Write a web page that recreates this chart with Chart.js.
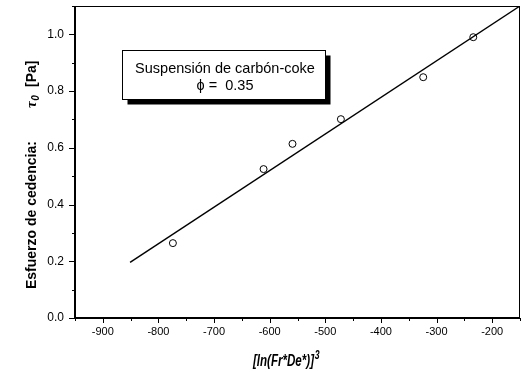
<!DOCTYPE html>
<html>
<head>
<meta charset="utf-8">
<script src="https://cdn.jsdelivr.net/npm/chart.js@4/dist/chart.umd.min.js"></script>
<style>
  html, body { margin: 0; padding: 0; background: #fff; }
  #wrap { width: 521px; height: 372px; position: relative; }
</style>
</head>
<body>
<div id="wrap"><canvas id="c" width="521" height="372"></canvas></div>
<script>
// ---- data ----
const pointX = [-774, -611, -559, -472, -324, -234];
const pointY = [0.264, 0.525, 0.614, 0.701, 0.849, 0.990];
const lineX = [-851, -150];
const lineY = [0.196, 1.100];
const xMajorTicks = [-900, -800, -700, -600, -500, -400, -300, -200];
const yMajorTicks = [0.0, 0.2, 0.4, 0.6, 0.8, 1.0];
const yTitle = 'Esfuerzo de cedencia:';
const yTitleSym = 'τ';
const yTitleSub = '0';
const yTitleUnit = '[Pa]';
const xTitle = '[ln(Fr*De*)]';
const xTitleSup = '3';
const boxLine1 = 'Suspensión de carbón-coke';
const boxLine2 = 'ϕ =  0.35';

const SANS = "'Liberation Sans', Arial, sans-serif";

const decor = {
  id: 'decor',
  afterDraw(chart) {
    const ctx = chart.ctx, ca = chart.chartArea;
    const xs = chart.scales.x, ys = chart.scales.y;
    ctx.save();
    ctx.strokeStyle = '#000';
    ctx.fillStyle = '#000';
    // frame
    ctx.lineWidth = 1;
    ctx.beginPath();
    ctx.moveTo(ca.left, ca.top + 0.5); ctx.lineTo(ca.right, ca.top + 0.5);
    ctx.moveTo(ca.right - 0.5, ca.top); ctx.lineTo(ca.right - 0.5, ca.bottom);
    ctx.stroke();
    ctx.lineWidth = 2;
    ctx.beginPath();
    ctx.moveTo(ca.left, ca.top); ctx.lineTo(ca.left, ca.bottom + 1);
    ctx.moveTo(ca.left - 1, ca.bottom); ctx.lineTo(ca.right, ca.bottom);
    ctx.stroke();
    // tick marks
    ctx.lineWidth = 1;
    ctx.beginPath();
    xs.ticks.forEach(t => {
      const px = Math.round(xs.getPixelForValue(t.value)) + 0.5;
      const major = xMajorTicks.includes(t.value);
      ctx.moveTo(px, ca.bottom); ctx.lineTo(px, ca.bottom + (major ? 5 : 3));
    });
    ys.ticks.forEach(t => {
      const py = Math.round(ys.getPixelForValue(t.value)) + 0.5;
      const major = yMajorTicks.some(v => Math.abs(v - t.value) < 1e-6);
      ctx.moveTo(ca.left, py); ctx.lineTo(ca.left - (major ? 6 : 3), py);
    });
    ctx.stroke();

    // annotation box with shadow
    const bx = 122.5, by = 50.5, bw = 203, bh = 49;
    ctx.fillStyle = '#000';
    ctx.fillRect(bx + 5, by + 5, bw, bh);
    ctx.fillStyle = '#fff';
    ctx.fillRect(bx, by, bw, bh);
    ctx.lineWidth = 1;
    ctx.strokeRect(bx, by, bw, bh);
    ctx.fillStyle = '#000';
    ctx.textAlign = 'center';
    ctx.textBaseline = 'alphabetic';
    ctx.font = '14.5px ' + SANS;
    ctx.fillText(boxLine1, 225, 72.5);
    ctx.fillText(boxLine2, 225, 90);

    // y title (rotated)
    ctx.save();
    ctx.translate(36, 289);
    ctx.rotate(-Math.PI / 2);
    ctx.textAlign = 'left';
    ctx.font = 'bold 14px ' + SANS;
    ctx.fillText(yTitle, 0, 0);
    ctx.font = 'italic bold 15px ' + "'Liberation Serif', serif";
    ctx.fillText(yTitleSym, 181, 0);
    const ws = ctx.measureText(yTitleSym).width;
    ctx.font = 'italic bold 10px ' + SANS;
    ctx.fillText(yTitleSub, 181 + ws + 0.5, 3);
    ctx.font = 'bold 14px ' + SANS;
    ctx.fillText(yTitleUnit, 202, 0);
    ctx.restore();

    // x title (condensed)
    ctx.save();
    ctx.font = 'italic bold 16px ' + SANS;
    const w = ctx.measureText(xTitle).width;
    const sx = 61 / w;
    ctx.translate(253, 366);
    ctx.scale(sx, 1);
    ctx.textAlign = 'left';
    ctx.fillText(xTitle, 0, 0);
    ctx.font = 'italic bold 12px ' + SANS;
    ctx.fillText(xTitleSup, w + 1, -7);
    ctx.restore();

    ctx.restore();
  }
};

new Chart(document.getElementById('c'), {
  type: 'scatter',
  data: {
    datasets: [
      {
        label: 'datos',
        data: pointX.map((x, i) => ({ x, y: pointY[i] })),
        pointStyle: 'circle',
        pointRadius: 3.5,
        pointBorderWidth: 1,
        pointBorderColor: '#000',
        pointBackgroundColor: 'rgba(255,255,255,0)',
        showLine: false
      },
      {
        label: 'ajuste',
        type: 'line',
        data: lineX.map((x, i) => ({ x, y: lineY[i] })),
        borderColor: '#000',
        borderWidth: 1.4,
        pointRadius: 0,
        fill: false,
        tension: 0
      }
    ]
  },
  options: {
    responsive: false,
    animation: false,
    devicePixelRatio: 1,
    layout: { autoPadding: false, padding: { top: 6, right: 1, left: 0, bottom: 0 } },
    plugins: { legend: { display: false }, tooltip: { enabled: false } },
    scales: {
      x: {
        type: 'linear',
        min: -950, max: -150,
        grid: { display: false, drawTicks: false },
        border: { display: false },
        ticks: {
          stepSize: 50,
          autoSkip: false,
          maxRotation: 0,
          padding: 7.5,
          color: '#000',
          font: { family: SANS, size: 11 },
          callback: v => (xMajorTicks.includes(v) ? String(v) : '')
        },
        afterFit(s) { s.height = 54; s.paddingLeft = 0; s.paddingRight = 0; }
      },
      y: {
        min: 0, max: 1.1,
        grid: { display: false, drawTicks: false },
        border: { display: false },
        ticks: {
          stepSize: 0.1,
          autoSkip: false,
          padding: 11,
          color: '#000',
          font: { family: SANS, size: 12 },
          callback: v => {
            const m = yMajorTicks.find(t => Math.abs(t - v) < 1e-6);
            return m === undefined ? '' : m.toFixed(1);
          }
        },
        afterFit(s) { s.width = 75; s.paddingTop = 0; s.paddingBottom = 0; }
      }
    }
  },
  plugins: [decor]
});
</script>
</body>
</html>
